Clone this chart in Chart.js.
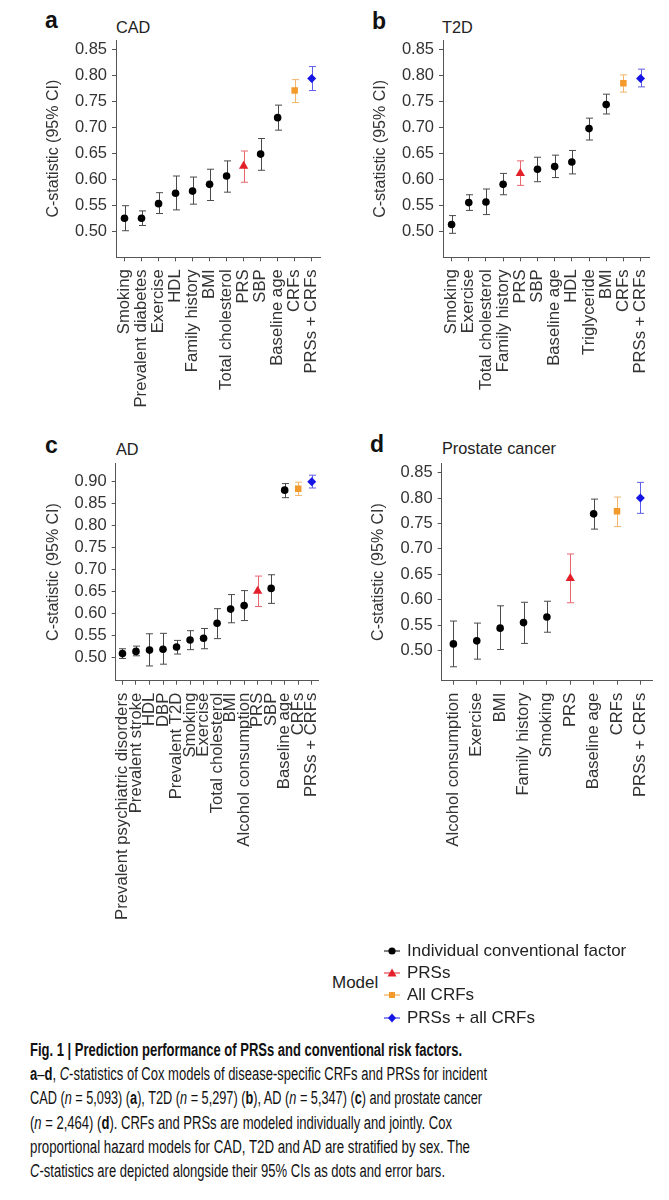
<!DOCTYPE html>
<html><head><meta charset="utf-8">
<script src="https://cdn.jsdelivr.net/npm/chart.js@4.4.1/dist/chart.umd.min.js"></script>
<style>
html,body{margin:0;padding:0;background:#fff;}
body{width:669px;height:1200px;position:relative;overflow:hidden;font-family:"Liberation Sans",Arial,sans-serif;}
.wrap{position:absolute;}
.letter{position:absolute;font-weight:bold;font-size:23px;color:#111;line-height:22px;}
.ptitle{position:absolute;font-size:16.3px;color:#222;line-height:16px;white-space:nowrap;}
.leg{position:absolute;font-size:17px;color:#222;line-height:20px;white-space:nowrap;}
.legrow{position:absolute;left:383px;height:20px;display:flex;align-items:center;white-space:nowrap;font-size:17px;color:#222;}
.legrow svg{margin-right:6px;}
#cap{position:absolute;left:30px;top:1038px;font-family:"Liberation Sans Narrow","Liberation Sans",Arial,sans-serif;font-size:18px;line-height:24.2px;color:#111;}
#cap .cl{display:block;white-space:nowrap;transform-origin:0 50%;width:max-content;}
</style>
</head><body>

<div class="letter" style="left:45px;top:9px;">a</div>
<div class="ptitle" style="left:116px;top:18.5px;">CAD</div>
<div class="letter" style="left:372px;top:10px;">b</div>
<div class="ptitle" style="left:442px;top:18.5px;">T2D</div>
<div class="letter" style="left:45px;top:434px;">c</div>
<div class="ptitle" style="left:116px;top:440.5px;">AD</div>
<div class="letter" style="left:370px;top:433px;">d</div>
<div class="ptitle" style="left:442px;top:440px;">Prostate cancer</div>

<div class="wrap" style="left:0;top:0;width:340px;height:420px;"><canvas id="cA" width="340" height="420"></canvas></div>
<div class="wrap" style="left:330px;top:0;width:339px;height:420px;"><canvas id="cB" width="339" height="420"></canvas></div>
<div class="wrap" style="left:0;top:420px;width:340px;height:520px;"><canvas id="cC" width="340" height="520"></canvas></div>
<div class="wrap" style="left:330px;top:420px;width:339px;height:520px;"><canvas id="cD" width="339" height="520"></canvas></div>

<div class="leg" style="left:332px;top:973px;">Model</div>
<div class="legrow" style="top:941px;"><svg width="18" height="12"><line x1="1" y1="6" x2="17" y2="6" stroke="#000" stroke-width="1"/><circle cx="9" cy="6" r="3.6" fill="#000"/></svg>Individual conventional factor</div>
<div class="legrow" style="top:963px;"><svg width="18" height="12"><line x1="1" y1="6" x2="17" y2="6" stroke="#e3202a" stroke-width="1"/><polygon points="9,1.5 13.5,9.5 4.5,9.5" fill="#e3202a"/></svg>PRSs</div>
<div class="legrow" style="top:985px;"><svg width="18" height="12"><line x1="1" y1="6" x2="17" y2="6" stroke="#f39a2d" stroke-width="1"/><rect x="6" y="3" width="6" height="6" fill="#f39a2d"/></svg>All CRFs</div>
<div class="legrow" style="top:1008px;"><svg width="18" height="12"><line x1="1" y1="6" x2="17" y2="6" stroke="#1515e6" stroke-width="1"/><polygon points="9,1.5 13,6 9,10.5 5,6" fill="#1515e6"/></svg>PRSs + all CRFs</div>

<div id="cap">
<span class="cl" data-w="432"><b>Fig. 1 | Prediction performance of PRSs and conventional risk factors.</b></span>
<span class="cl" data-w="457"><b>a</b>–<b>d</b>, <i>C</i>-statistics of Cox models of disease-specific CRFs and PRSs for incident</span>
<span class="cl" data-w="452">CAD (<i>n</i> = 5,093) (<b>a</b>), T2D (<i>n</i> = 5,297) (<b>b</b>), AD (<i>n</i> = 5,347) (<b>c</b>) and prostate cancer</span>
<span class="cl" data-w="422">(<i>n</i> = 2,464) (<b>d</b>). CRFs and PRSs are modeled individually and jointly. Cox</span>
<span class="cl" data-w="440">proportional hazard models for CAD, T2D and AD are stratified by sex. The</span>
<span class="cl" data-w="415"><i>C</i>-statistics are depicted alongside their 95% CIs as dots and error bars.</span>
</div>

<script>
// ---------- DATA ----------
const yTicksA = [0.50,0.55,0.60,0.65,0.70,0.75,0.80,0.85];
const yTicksB = [0.50,0.55,0.60,0.65,0.70,0.75,0.80,0.85];
const yTicksC = [0.50,0.55,0.60,0.65,0.70,0.75,0.80,0.85,0.90];
const yTicksD = [0.50,0.55,0.60,0.65,0.70,0.75,0.80,0.85];

const cadLabels = ['Smoking','Prevalent diabetes','Exercise','HDL','Family history','BMI','Total cholesterol','PRS','SBP','Baseline age','CRFs','PRSs + CRFs'];
const cadC     = [0.526,0.526,0.554,0.574,0.578,0.591,0.607,0.626,0.649,0.719,0.771,0.794];
const cadLo    = [0.502,0.512,0.535,0.542,0.553,0.560,0.576,0.595,0.618,0.695,0.748,0.771];
const cadHi    = [0.550,0.540,0.575,0.607,0.605,0.620,0.636,0.655,0.679,0.743,0.792,0.817];
const cadModel = ['ind','ind','ind','ind','ind','ind','ind','prs','ind','ind','crf','both'];

const t2dLabels = ['Smoking','Exercise','Total cholesterol','Family history','PRS','SBP','Baseline age','HDL','Triglyceride','BMI','CRFs','PRSs + CRFs'];
const t2dC     = [0.514,0.556,0.557,0.591,0.612,0.620,0.625,0.634,0.698,0.744,0.785,0.794];
const t2dLo    = [0.497,0.541,0.533,0.571,0.589,0.596,0.604,0.611,0.676,0.726,0.768,0.778];
const t2dHi    = [0.531,0.571,0.582,0.612,0.636,0.643,0.647,0.656,0.718,0.764,0.801,0.812];
const t2dModel = ['ind','ind','ind','ind','prs','ind','ind','ind','ind','ind','crf','both'];

const adLabels = ['Prevalent psychiatric disorders','Prevalent stroke','HDL','DBP','Prevalent T2D','Smoking','Exercise','Total cholesterol','BMI','Alcohol consumption','PRS','SBP','Baseline age','CRFs','PRSs + CRFs'];
const adC     = [0.509,0.514,0.517,0.519,0.524,0.540,0.544,0.578,0.610,0.618,0.651,0.657,0.880,0.883,0.899];
const adLo    = [0.498,0.504,0.481,0.485,0.508,0.518,0.520,0.543,0.579,0.584,0.616,0.623,0.863,0.868,0.885];
const adHi    = [0.520,0.526,0.554,0.555,0.539,0.561,0.566,0.611,0.643,0.652,0.685,0.688,0.895,0.898,0.914];
const adModel = ['ind','ind','ind','ind','ind','ind','ind','ind','ind','ind','prs','ind','ind','crf','both'];

const pcLabels = ['Alcohol consumption','Exercise','BMI','Family history','Smoking','PRS','Baseline age','CRFs','PRSs + CRFs'];
const pcC     = [0.513,0.519,0.544,0.555,0.566,0.642,0.769,0.774,0.800];
const pcLo    = [0.468,0.483,0.502,0.514,0.536,0.594,0.739,0.744,0.770];
const pcHi    = [0.558,0.554,0.588,0.595,0.597,0.690,0.798,0.802,0.831];
const pcModel = ['ind','ind','ind','ind','ind','prs','ind','crf','both'];

// ---------- STYLE ----------
const STY = {
  ind:  {fill:'#000000', bar:'#4a4a4a', shape:'circle',  r:3.8},
  prs:  {fill:'#e3202a', bar:'#e8666d', shape:'triangle',r:5.4},
  crf:  {fill:'#f39a2d', bar:'#f5b56a', shape:'rect',    r:4.6},
  both: {fill:'#1515e6', bar:'#5e5ee8', shape:'rectRot', r:4.5}
};
const FONT = '"Liberation Sans", Arial, sans-serif';
const TXT = '#333333';
const AXC = '#555555';

const errorBars = {
  id:'errorBars',
  beforeDatasetsDraw(chart){
    const ctx = chart.ctx, ys = chart.scales.y;
    const ds = chart.data.datasets[0];
    const meta = chart.getDatasetMeta(0);
    ctx.save();
    ctx.lineWidth = 1;
    meta.data.forEach((pt,i)=>{
      const x = Math.round(pt.x)+0.5;
      const y1 = ys.getPixelForValue(ds.lo[i]);
      const y2 = ys.getPixelForValue(ds.hi[i]);
      ctx.strokeStyle = ds.barColors[i];
      ctx.beginPath();
      ctx.moveTo(x,y1); ctx.lineTo(x,y2);
      ctx.moveTo(x-3.5,y1); ctx.lineTo(x+3.5,y1);
      ctx.moveTo(x-3.5,y2); ctx.lineTo(x+3.5,y2);
      ctx.stroke();
    });
    ctx.restore();
  }
};

function panel(id, labels, vals, lo, hi, model, yMin, yMax, yTicks, cfg){
  const canvas = document.getElementById(id);
  return new Chart(canvas, {
    type:'line',
    data:{
      labels: labels,
      datasets:[{
        data: vals,
        lo: lo, hi: hi,
        barColors: model.map(m=>STY[m].bar),
        showLine:false,
        pointStyle: model.map(m=>STY[m].shape),
        pointRadius: model.map(m=>STY[m].r),
        pointHoverRadius: model.map(m=>STY[m].r),
        pointBackgroundColor: model.map(m=>STY[m].fill),
        pointBorderColor: model.map(m=>STY[m].fill),
        pointBorderWidth: 0
      }]
    },
    options:{
      responsive:false,
      animation:false,
      events:[],
      layout:{autoPadding:false, padding:{top:cfg.padTop, right:cfg.padRight, left:0, bottom:0}},
      plugins:{legend:{display:false}, tooltip:{enabled:false}, title:{display:false}},
      scales:{
        x:{
          type:'category',
          offset:true,
          grid:{display:true, drawOnChartArea:false, drawTicks:true, tickLength:4, offset:false, color:AXC},
          border:{display:true, color:AXC, width:1},
          ticks:{autoSkip:false, maxRotation:90, minRotation:90, padding:8, color:TXT, font:{family:FONT, size:16.7}},
          afterFit(s){ s.height = cfg.xHeight; }
        },
        y:{
          type:'linear',
          min:yMin, max:yMax,
          grid:{display:true, drawOnChartArea:false, drawTicks:true, tickLength:4, color:AXC},
          border:{display:true, color:AXC, width:1},
          ticks:{padding:5, color:TXT, font:{family:FONT, size:16.5}, callback:(v)=>Number(v).toFixed(2)},
          afterBuildTicks(s){ s.ticks = yTicks.map(v=>({value:v})); },
          title:{display:true, text:'C-statistic (95% CI)', color:TXT, font:{family:FONT, size:16}, padding:{top:cfg.titlePad, bottom:0}},
          afterFit(s){ s.width = cfg.yWidth; }
        }
      }
    },
    plugins:[errorBars]
  });
}

panel('cA', cadLabels, cadC, cadLo, cadHi, cadModel, 0.451, 0.868, yTicksA,
  {padTop:40, padRight:7, xHeight:162.7, yWidth:116, titlePad:44});
panel('cB', t2dLabels, t2dC, t2dLo, t2dHi, t2dModel, 0.451, 0.867, yTicksB,
  {padTop:40.5, padRight:10, xHeight:162.7, yWidth:113, titlePad:40.5});
panel('cC', adLabels, adC, adLo, adHi, adModel, 0.4475, 0.941, yTicksC,
  {padTop:43.3, padRight:7, xHeight:259.3, yWidth:115.7, titlePad:44});
panel('cD', pcLabels, pcC, pcLo, pcHi, pcModel, 0.4406, 0.8685, yTicksD,
  {padTop:43.3, padRight:10, xHeight:259.3, yWidth:111.7, titlePad:39});

function fitCaption(){
  document.querySelectorAll('#cap .cl').forEach(el=>{
    el.style.transform='none';
    const w = el.getBoundingClientRect().width;
    const t = parseFloat(el.dataset.w);
    if (w>0) el.style.transform = 'scaleX(' + (t/w) + ')';
  });
}
fitCaption();
if (document.fonts && document.fonts.ready) document.fonts.ready.then(fitCaption);
</script>
</body></html>
